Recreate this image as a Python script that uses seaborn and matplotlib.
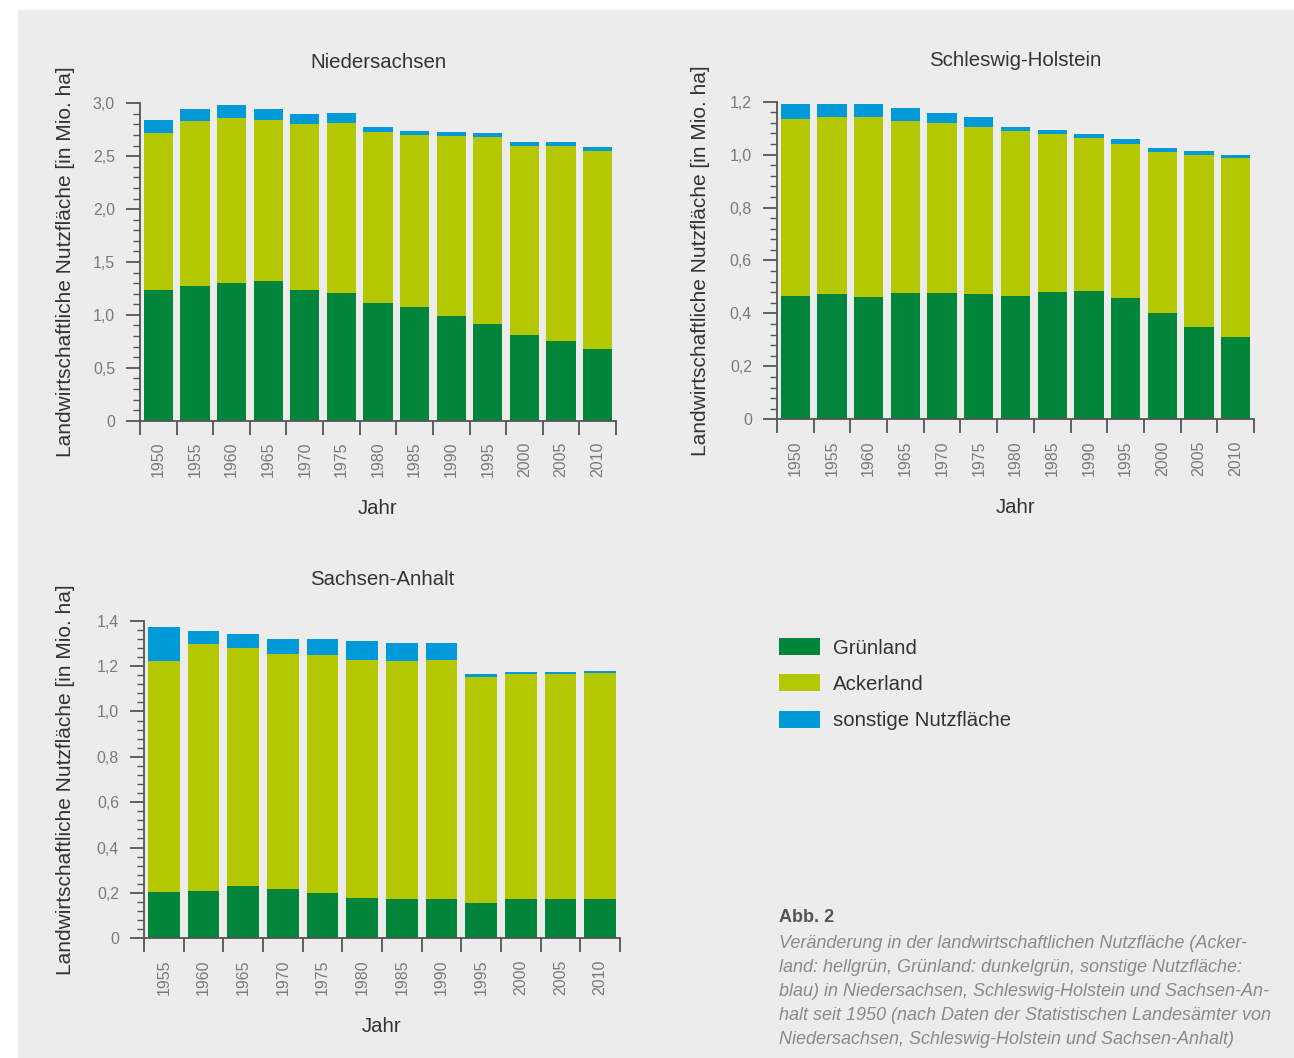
import numpy as np
import matplotlib
matplotlib.use("Agg")
import matplotlib.pyplot as plt
from matplotlib.patches import Patch, Rectangle
from matplotlib.ticker import MultipleLocator, FuncFormatter
import seaborn as sns

# ---------------- data (Mio. ha) ----------------
years_nds = ["1950", "1955", "1960", "1965", "1970", "1975", "1980",
             "1985", "1990", "1995", "2000", "2005", "2010"]
gruen_nds = [1.24, 1.27, 1.30, 1.32, 1.24, 1.21, 1.11, 1.07, 0.99, 0.91, 0.81, 0.75, 0.68]
acker_nds = [1.48, 1.56, 1.56, 1.52, 1.56, 1.60, 1.62, 1.63, 1.70, 1.77, 1.79, 1.85, 1.87]
sonst_nds = [0.12, 0.12, 0.12, 0.11, 0.10, 0.10, 0.045, 0.04, 0.035, 0.04, 0.035, 0.035, 0.035]

years_sh = ["1950", "1955", "1960", "1965", "1970", "1975", "1980",
            "1985", "1990", "1995", "2000", "2005", "2010"]
gruen_sh = [0.465, 0.475, 0.462, 0.477, 0.477, 0.472, 0.466, 0.480, 0.485, 0.460, 0.403, 0.349, 0.312]
acker_sh = [0.669, 0.668, 0.680, 0.650, 0.642, 0.632, 0.623, 0.598, 0.578, 0.581, 0.608, 0.648, 0.674]
sonst_sh = [0.056, 0.048, 0.048, 0.048, 0.037, 0.038, 0.017, 0.015, 0.015, 0.017, 0.015, 0.015, 0.014]

years_sa = ["1955", "1960", "1965", "1970", "1975", "1980",
            "1985", "1990", "1995", "2000", "2005", "2010"]
gruen_sa = [0.206, 0.209, 0.229, 0.217, 0.200, 0.179, 0.175, 0.175, 0.156, 0.172, 0.172, 0.175]
acker_sa = [1.015, 1.088, 1.051, 1.036, 1.047, 1.049, 1.049, 1.052, 0.997, 0.994, 0.994, 0.994]
sonst_sa = [0.151, 0.057, 0.060, 0.068, 0.072, 0.082, 0.079, 0.073, 0.010, 0.008, 0.009, 0.008]

series_names = ["Grünland", "Ackerland", "sonstige Nutzfläche"]
titles = ["Niedersachsen", "Schleswig-Holstein", "Sachsen-Anhalt"]
ylabel = "Landwirtschaftliche Nutzfläche [in Mio. ha]"
xlabel = "Jahr"

# ---------------- style ----------------
C_GRUEN = "#00853a"
C_ACKER = "#b3c800"
C_SONST = "#009ad8"
BG = "#ebeceb"
AXC = "#555555"
TICKC = "#7a7a7a"
TXT = "#333333"

sns.set_style("ticks")
plt.rcParams["font.family"] = ["Liberation Sans", "DejaVu Sans"]

W, H = 1294, 1058
fig = plt.figure(figsize=(W / 100, H / 100), dpi=100, facecolor="white")
fig.patches.append(Rectangle((18 / W, 0), 1 - 18 / W, (H - 10) / H,
                             transform=fig.transFigure, color=BG, zorder=-10))


def px_axes(x0, x1, ytop, ybot):
    return fig.add_axes([x0 / W, (H - ybot) / H, (x1 - x0) / W, (ybot - ytop) / H])


def comma_fmt(v, pos):
    if abs(v) < 1e-9:
        return "0"
    return f"{v:.1f}".replace(".", ",")


def draw_panel(ax, years, gruen, acker, sonst, title, ymax, step, ylab_x):
    g = np.array(gruen)
    a = np.array(acker)
    s = np.array(sonst)
    total = g + a + s
    ga = g + a
    sns.barplot(x=years, y=total, color=C_SONST, saturation=1, width=0.8,
                order=years, ax=ax, linewidth=0)
    sns.barplot(x=years, y=ga, color=C_ACKER, saturation=1, width=0.8,
                order=years, ax=ax, linewidth=0)
    sns.barplot(x=years, y=g, color=C_GRUEN, saturation=1, width=0.8,
                order=years, ax=ax, linewidth=0)
    n = len(years)
    ax.set_facecolor("none")
    ax.set_xlim(-0.5, n - 0.5)
    ax.set_ylim(0, ymax)
    sns.despine(ax=ax)
    for sp in ("left", "bottom"):
        ax.spines[sp].set_color(AXC)
        ax.spines[sp].set_linewidth(1.3)
    ax.set_xticks(range(n))
    ax.set_xticklabels(years, rotation=90)
    ax.set_xticks(np.arange(-0.5, n, 1.0), minor=True)
    ax.tick_params(axis="x", which="major", length=0, pad=15,
                   labelcolor=TICKC, labelsize=11.5)
    ax.tick_params(axis="x", which="minor", length=10, width=1.3, color=AXC)
    ax.yaxis.set_major_locator(MultipleLocator(step))
    ax.yaxis.set_minor_locator(MultipleLocator(step / 5))
    ax.yaxis.set_major_formatter(FuncFormatter(comma_fmt))
    ax.tick_params(axis="y", which="major", length=10, width=1.3, color=AXC,
                   labelcolor=TICKC, labelsize=11.5, pad=8)
    ax.tick_params(axis="y", which="minor", length=5, width=1.0, color=AXC)
    ax.set_title(title, fontsize=14.7, color=TXT, pad=0, y=1 + 41 / 317.4, va="center")
    ax.set_xlabel(xlabel, fontsize=14.7, color=TXT)
    ax.xaxis.label.set_va("center")
    ax.xaxis.set_label_coords(0.5, -88 / 317.4)
    ax.set_ylabel(ylabel, fontsize=15, color=TXT)
    ax.yaxis.label.set_va("center")
    ax.yaxis.set_label_coords(ylab_x, 0.5)


ax1 = px_axes(140, 616, 103.3, 420.7)
draw_panel(ax1, years_nds, gruen_nds, acker_nds, sonst_nds, titles[0], 3.0, 0.5, (66 - 140) / 476)

ax2 = px_axes(777, 1254, 101.7, 419.3)
draw_panel(ax2, years_sh, gruen_sh, acker_sh, sonst_sh, titles[1], 1.2, 0.2, (700 - 777) / 477)

ax3 = px_axes(144, 620, 620.7, 938.3)
draw_panel(ax3, years_sa, gruen_sa, acker_sa, sonst_sa, titles[2], 1.4, 0.2, (66 - 144) / 476)

# legend
handles = [Patch(facecolor=c, edgecolor="none") for c in (C_GRUEN, C_ACKER, C_SONST)]
leg = fig.legend(handles, series_names, loc="upper left",
                 bbox_to_anchor=(779 / W, (H - 638) / H), frameon=False,
                 fontsize=14.7, handlelength=2.0, handleheight=0.9,
                 labelspacing=0.83, handletextpad=0.65, borderpad=0, borderaxespad=0)
for t in leg.get_texts():
    t.set_color(TXT)

# caption
fig.text(779 / W, (H - 918) / H, "Abb. 2", fontsize=13, fontweight="bold",
         color="#555555", ha="left", va="center")
cap_lines = [
    "Veränderung in der landwirtschaftlichen Nutzfläche (Acker-",
    "land: hellgrün, Grünland: dunkelgrün, sonstige Nutzfläche:",
    "blau) in Niedersachsen, Schleswig-Holstein und Sachsen-An-",
    "halt seit 1950 (nach Daten der Statistischen Landesämter von",
    "Niedersachsen, Schleswig-Holstein und Sachsen-Anhalt)",
]
for i, line in enumerate(cap_lines):
    fig.text(779 / W, (H - (943 + 24 * i)) / H, line, fontsize=13, style="italic",
             color="#8a8a8a", ha="left", va="center")

fig.savefig("out.png", dpi=100, facecolor="white")
